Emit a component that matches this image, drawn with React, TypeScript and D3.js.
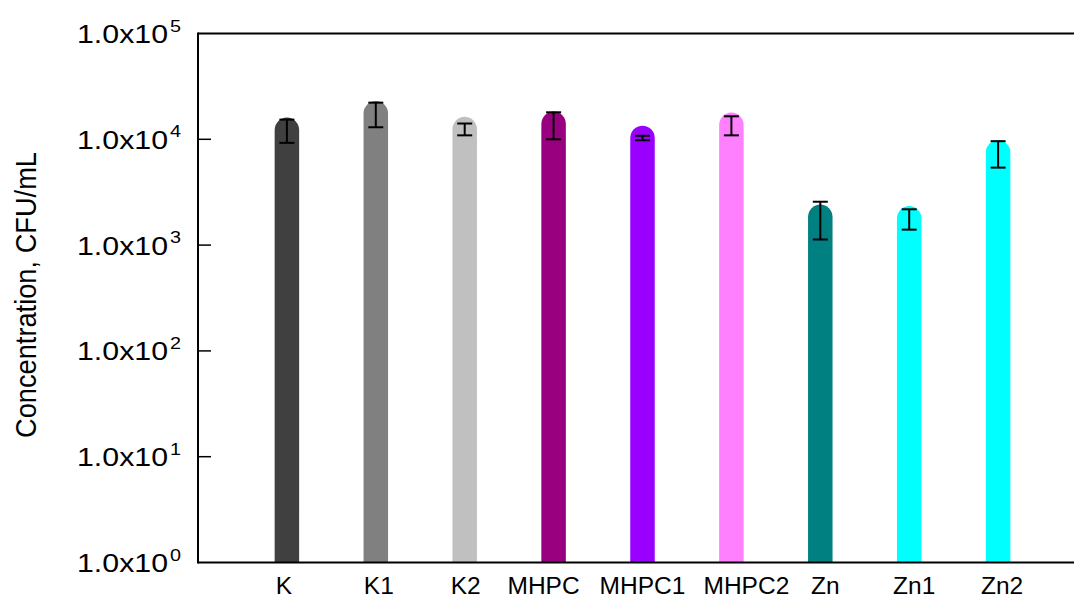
import React from 'react';
import * as d3 from 'd3';

const categories = ['K', 'K1', 'K2', 'MHPC', 'MHPC1', 'MHPC2', 'Zn', 'Zn1', 'Zn2'];
const means = [12300, 17600, 12500, 14000, 10300, 13700, 1850, 1790, 7500];
const errors = [3050, 4600, 1600, 4000, 500, 2800, 720, 390, 2100];
const colors = ['#404040', '#808080', '#c0c0c0', '#990080', '#9900ff', '#ff80ff', '#008080', '#00ffff', '#00ffff'];
const tickExponents = [0, 1, 2, 3, 4, 5];

const W = 1074;
const H = 594;
const left = 198;
const top = 33.5;
const bottom = 562.5;

// the x labels in the original sit a little off their bars
const labelNudge = [-3, 3, 1, -10, 0, 15, 5, 5, 4];

const App = () => {
    const x = d3.scalePoint<string>().domain(categories).range([left, 1087]).padding(1);
    const y = d3.scaleLog().domain([1, 1e5]).range([bottom, top]);
    const barW = 24.5;
    const r = barW / 2;
    const capW = 15;

    const barPath = (cx: number, vy: number) => {
        const path = d3.path();
        path.moveTo(cx - r, bottom);
        path.lineTo(cx - r, vy);
        path.arc(cx, vy, r, Math.PI, 0);
        path.lineTo(cx + r, bottom);
        path.closePath();
        return path.toString();
    };

    return (
        <svg width={W} height={H} style={{ position: 'absolute', left: 0, top: 0, background: '#fff' }}
            fontFamily="Arial, 'Liberation Sans', Helvetica, sans-serif">
            <defs>
                <clipPath id="plot">
                    <rect x={left} y={0} width={W - left} height={bottom} />
                </clipPath>
            </defs>

            {/* bars, rounded on top */}
            <g clipPath="url(#plot)">
                {categories.map((c, i) => (
                    <path key={c} d={barPath(x(c)!, y(means[i]))} fill={colors[i]} />
                ))}
            </g>

            {/* error bars */}
            {categories.map((c, i) => {
                const cx = x(c)!;
                const y1 = y(means[i] + errors[i]);
                const y2 = y(means[i] - errors[i]);
                return (
                    <g key={c} stroke="#000" strokeWidth={2}>
                        <line x1={cx} x2={cx} y1={y1} y2={y2} />
                        <line x1={cx - capW / 2} x2={cx + capW / 2} y1={y1} y2={y1} />
                        <line x1={cx - capW / 2} x2={cx + capW / 2} y1={y2} y2={y2} />
                    </g>
                );
            })}

            {/* frame */}
            <g stroke="#000" strokeWidth={2} fill="none">
                <line x1={left} x2={left} y1={top - 1} y2={bottom + 1} />
                <line x1={left} x2={W} y1={top} y2={top} />
                <line x1={left} x2={W} y1={bottom} y2={bottom} />
            </g>

            {/* y ticks and labels */}
            {tickExponents.map(e => {
                const ty = y(Math.pow(10, e));
                return (
                    <g key={e}>
                        {e > 0 && e < 5 && (
                            <line x1={left} x2={left + 13} y1={ty} y2={ty} stroke="#000" strokeWidth={1.5} />
                        )}
                        <text x={77} y={ty + 9.5} fontSize={25} textLength={91} lengthAdjust="spacingAndGlyphs" fill="#000">
                            1.0x10
                        </text>
                        <text x={170} y={ty - 2} fontSize={16} textLength={11} lengthAdjust="spacingAndGlyphs" fill="#000">{e}</text>
                    </g>
                );
            })}

            {/* x labels */}
            {categories.map((c, i) => (
                <text key={c} x={x(c)! + labelNudge[i]} y={594} fontSize={24.5} textAnchor="middle" fill="#000">{c}</text>
            ))}

            {/* y title */}
            <text transform="translate(36, 295) rotate(-90)" fontSize={29} textAnchor="middle"
                textLength={286} lengthAdjust="spacingAndGlyphs" fill="#000">
                Concentration, CFU/mL
            </text>
        </svg>
    );
};

export default App;
